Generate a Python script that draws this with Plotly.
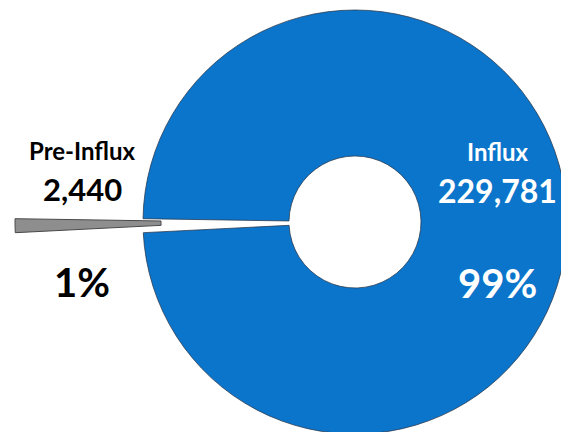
import plotly.graph_objects as go

categories = ["Pre-Influx", "Influx"]
values = [2440, 229781]
value_labels = ["2,440", "229,781"]
pct_labels = ["1%", "99%"]

W, H = 569, 432
OFF = 8  # page body margin in the browser
BLUE = "#0B75CB"
GRAY = "#8E8E8E"
CLEAR = "rgba(0,0,0,0)"

# main ring geometry (screen pixels)
cx, cy = 355, 222
r = 212
hole = 66 / r
pull_px = 128

def xdom(center):
    c = center - OFF
    return [max(0, (c - r) / W), min(1, (c + r) / W)]

c_y = cy - OFF
ydom = [max(0, 1 - (c_y + r) / H), min(1, 1 - (c_y - r) / H)]

frac = values[0] / sum(values) * 360
rot = 269 - frac / 2

fig = go.Figure()
fig.add_trace(go.Pie(
    labels=categories, values=values, sort=False, direction="clockwise",
    rotation=rot, hole=hole, textinfo="none", hoverinfo="skip",
    marker=dict(colors=[CLEAR, BLUE],
                line=dict(color=[CLEAR, "rgba(40,55,75,0.75)"], width=[0, 1])),
    domain=dict(x=xdom(cx), y=ydom), showlegend=False,
))
fig.add_trace(go.Pie(
    labels=categories, values=values, sort=False, direction="clockwise",
    rotation=rot, hole=hole, textinfo="none", hoverinfo="skip",
    marker=dict(colors=[GRAY, CLEAR],
                line=dict(color=["#4A4A4A", CLEAR], width=[1, 0])),
    domain=dict(x=xdom(cx - pull_px), y=ydom), showlegend=False,
))

FONT = "Lato, 'Open Sans', sans-serif"

def ann(x, y, text, size, color):
    fig.add_annotation(x=(x - OFF) / W, y=1 - (y - OFF) / H, xref="paper", yref="paper",
                       text=text, showarrow=False, xanchor="center", yanchor="middle",
                       font=dict(family=FONT, size=size, color=color, weight="bold"))

ann(82, 150, categories[0], 24, "black")
ann(82, 189, value_labels[0], 31, "black")
ann(82, 282, pct_labels[0], 40, "black")
ann(497, 152, categories[1], 24, "white")
ann(497, 190, value_labels[1], 32, "white")
ann(497, 283, pct_labels[1], 40, "white")

fig.update_layout(width=W, height=H, margin=dict(l=0, r=0, t=0, b=0),
                  paper_bgcolor="white", plot_bgcolor="white")
fig.write_html("out.html")
